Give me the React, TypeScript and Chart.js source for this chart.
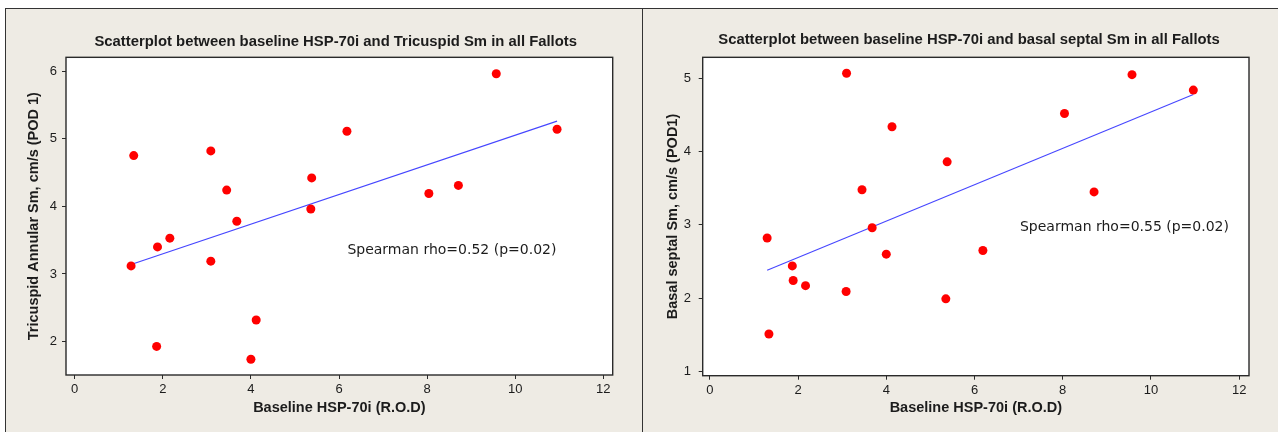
import React, { useEffect, useRef } from "react";
import { Chart, registerables } from "chart.js";

Chart.register(...registerables);

// ---------- data ----------
const xTickValues = [0, 2, 4, 6, 8, 10, 12];
const tricuspidTickValues = [2, 3, 4, 5, 6];
const septalTickValues = [1, 2, 3, 4, 5];

const tricuspidX = [1.34, 3.09, 6.18, 5.38, 3.45, 5.36, 3.68, 2.16, 1.88, 1.28, 3.09, 4.12, 1.86, 4.0, 9.57, 10.95, 8.04, 8.71];
const tricuspidY = [4.75, 4.82, 5.11, 4.42, 4.24, 3.96, 3.78, 3.53, 3.4, 3.12, 3.19, 2.32, 1.93, 1.74, 5.96, 5.14, 4.19, 4.31];
const tricuspidFitX = [1.28, 10.95];
const tricuspidFitY = [3.14, 5.26];

const septalX = [3.1, 4.13, 5.38, 3.45, 3.68, 1.3, 4.0, 1.87, 1.89, 2.17, 3.09, 5.35, 1.34, 6.19, 9.57, 10.96, 8.04, 8.71];
const septalY = [5.07, 4.34, 3.86, 3.48, 2.96, 2.82, 2.6, 2.44, 2.24, 2.17, 2.09, 1.99, 1.51, 2.65, 5.05, 4.84, 4.52, 3.45];
const septalFitX = [1.3, 10.96];
const septalFitY = [2.38, 4.78];

const titles = [
  "Scatterplot between baseline HSP-70i and Tricuspid Sm in all Fallots",
  "Scatterplot between baseline HSP-70i and basal septal Sm in all Fallots",
];
const xAxisTitle = "Baseline HSP-70i (R.O.D)";
const yAxisTitles = ["Tricuspid Annular Sm, cm/s (POD 1)", "Basal septal Sm, cm/s (POD1)"];
const annotations = ["Spearman rho=0.52 (p=0.02)", "Spearman rho=0.55 (p=0.02)"];

// ---------- styling / layout ----------
const TEXT = "#1c1c1c";
const AXIS = "#2a2a2a";

type Spec = {
  xs: number[];
  ys: number[];
  fitX: number[];
  fitY: number[];
  yTicks: number[];
  title: string;
  yTitle: string;
  note: string;
  noteAt: { x: number; y: number };
  xMin: number;
  xMax: number;
  yMin: number;
  yMax: number;
  padLeft: number;
  padRight: number;
  yWidth: number;
  xHeight: number;
  titleTop: number;
  titleBottom: number;
  yTitlePad: number;
  yTickPad: number;
};

const framePlugin = {
  id: "frame",
  beforeDraw(chart: any) {
    const { ctx, chartArea: a } = chart;
    ctx.save();
    ctx.fillStyle = "#ffffff";
    ctx.fillRect(a.left, a.top, a.right - a.left, a.bottom - a.top);
    ctx.restore();
  },
  afterDraw(chart: any) {
    const { ctx, chartArea: a } = chart;
    ctx.save();
    ctx.strokeStyle = AXIS;
    ctx.lineWidth = 1.4;
    ctx.strokeRect(a.left, a.top, a.right - a.left, a.bottom - a.top);
    ctx.restore();
  },
};

const notePlugin = {
  id: "note",
  afterDatasetsDraw(chart: any, _args: any, opts: any) {
    const { ctx, scales } = chart;
    const px = scales.x.getPixelForValue(opts.x);
    const py = scales.y.getPixelForValue(opts.y);
    ctx.save();
    ctx.fillStyle = TEXT;
    ctx.font = "14px 'DejaVu Sans'";
    ctx.textAlign = "left";
    ctx.textBaseline = "middle";
    ctx.fillText(opts.text, px, py);
    ctx.restore();
  },
};

function makeChart(canvas: HTMLCanvasElement, s: Spec) {
  const tickFont = { family: "'Liberation Sans'", size: 13 };
  const axisTitleFont = { family: "'Liberation Sans'", size: 14.5, weight: "bold" as const, lineHeight: 1.2 };
  return new Chart(canvas, {
    type: "scatter",
    data: {
      datasets: [
        {
          type: "line",
          data: s.fitX.map((x, i) => ({ x, y: s.fitY[i] })),
          borderColor: "#4646ff",
          borderWidth: 1.1,
          pointRadius: 0,
          fill: false,
          tension: 0,
          order: 2,
        } as any,
        {
          type: "scatter",
          data: s.xs.map((x, i) => ({ x, y: s.ys[i] })),
          backgroundColor: "#ff0000",
          borderWidth: 0,
          pointRadius: 4.5,
          order: 1,
        },
      ],
    },
    options: {
      responsive: false,
      animation: false,
      events: [],
      layout: { padding: { left: s.padLeft, right: s.padRight, top: 0, bottom: 0 } },
      plugins: {
        legend: { display: false },
        tooltip: { enabled: false },
        title: {
          display: true,
          text: s.title,
          color: TEXT,
          font: { family: "'Liberation Sans'", size: 14.85, weight: "bold", lineHeight: 1.2 },
          padding: { top: s.titleTop, bottom: s.titleBottom },
        },
        note: { text: s.note, x: s.noteAt.x, y: s.noteAt.y },
      } as any,
      scales: {
        x: {
          type: "linear",
          min: s.xMin,
          max: s.xMax,
          afterBuildTicks: (sc: any) => {
            sc.ticks = xTickValues.map((v) => ({ value: v }));
          },
          afterFit: (sc: any) => {
            sc.height = s.xHeight;
          },
          grid: { display: true, drawOnChartArea: false, drawTicks: true, tickLength: 4, color: AXIS, lineWidth: 1 },
          border: { display: false },
          ticks: { color: TEXT, font: tickFont, padding: 3, maxRotation: 0, autoSkip: false },
          title: { display: true, text: xAxisTitle, color: TEXT, font: axisTitleFont, padding: { top: 0, bottom: 15 } },
        },
        y: {
          type: "linear",
          min: s.yMin,
          max: s.yMax,
          afterBuildTicks: (sc: any) => {
            sc.ticks = s.yTicks.map((v) => ({ value: v }));
          },
          afterFit: (sc: any) => {
            sc.width = s.yWidth;
          },
          grid: { display: true, drawOnChartArea: false, drawTicks: true, tickLength: 4, color: AXIS, lineWidth: 1 },
          border: { display: false },
          ticks: { color: TEXT, font: tickFont, mirror: true, crossAlign: "far", padding: s.yTickPad, autoSkip: false },
          title: { display: true, text: s.yTitle, color: TEXT, font: axisTitleFont, padding: { top: s.yTitlePad, bottom: 0 } },
        },
      },
    },
    plugins: [framePlugin, notePlugin],
  });
}

// canvas-local layout: left canvas at page x=6, right canvas at page x=643, both at y=9
const leftSpec: Spec = {
  xs: tricuspidX,
  ys: tricuspidY,
  fitX: tricuspidFitX,
  fitY: tricuspidFitY,
  yTicks: tricuspidTickValues,
  title: titles[0],
  yTitle: yAxisTitles[0],
  note: annotations[0],
  noteAt: { x: 6.19, y: 3.35 },
  xMin: -0.1975,
  xMax: 12.213,
  yMin: 1.507,
  yMax: 6.203,
  padLeft: 52.7,
  padRight: 29.3,
  yWidth: 7.3,
  xHeight: 57,
  titleTop: 24.3,
  titleBottom: 6.2,
  yTitlePad: -33.6,
  yTickPad: -16.2,
};

const rightSpec: Spec = {
  xs: septalX,
  ys: septalY,
  fitX: septalFitX,
  fitY: septalFitY,
  yTicks: septalTickValues,
  title: titles[1],
  yTitle: yAxisTitles[1],
  note: annotations[1],
  noteAt: { x: 7.03, y: 2.967 },
  xMin: -0.161,
  xMax: 12.222,
  yMin: 0.941,
  yMax: 5.287,
  padLeft: 46,
  padRight: 29,
  yWidth: 13.7,
  xHeight: 56.3,
  titleTop: 22.3,
  titleBottom: 8.2,
  yTitlePad: -24.7,
  yTickPad: -18.9,
};

function Panel({ spec, left, width }: { spec: Spec; left: number; width: number }) {
  const ref = useRef<HTMLCanvasElement | null>(null);
  useEffect(() => {
    if (!ref.current) return;
    const chart = makeChart(ref.current, spec);
    return () => chart.destroy();
  }, [spec]);
  return (
    <canvas
      ref={ref}
      width={width}
      height={423}
      style={{ position: "absolute", left, top: 9, width, height: 423 }}
    />
  );
}

export default function App() {
  useEffect(() => {
    document.body.style.margin = "0";
    document.body.style.overflow = "hidden";
  }, []);
  return (
    <div
      style={{
        position: "absolute",
        left: 0,
        top: 0,
        width: 1278,
        height: 432,
        overflow: "hidden",
        background: "#ffffff",
      }}
    >
      <div
        style={{
          position: "absolute",
          left: 5,
          top: 8,
          width: 1273,
          height: 424,
          boxSizing: "border-box",
          borderTop: "1px solid #333",
          borderLeft: "1px solid #333",
          background: "#eeebe4",
        }}
      />
      <div style={{ position: "absolute", left: 642, top: 8, width: 1, height: 424, background: "#333" }} />
      <Panel spec={leftSpec} left={6} width={636} />
      <Panel spec={rightSpec} left={643} width={635} />
    </div>
  );
}
